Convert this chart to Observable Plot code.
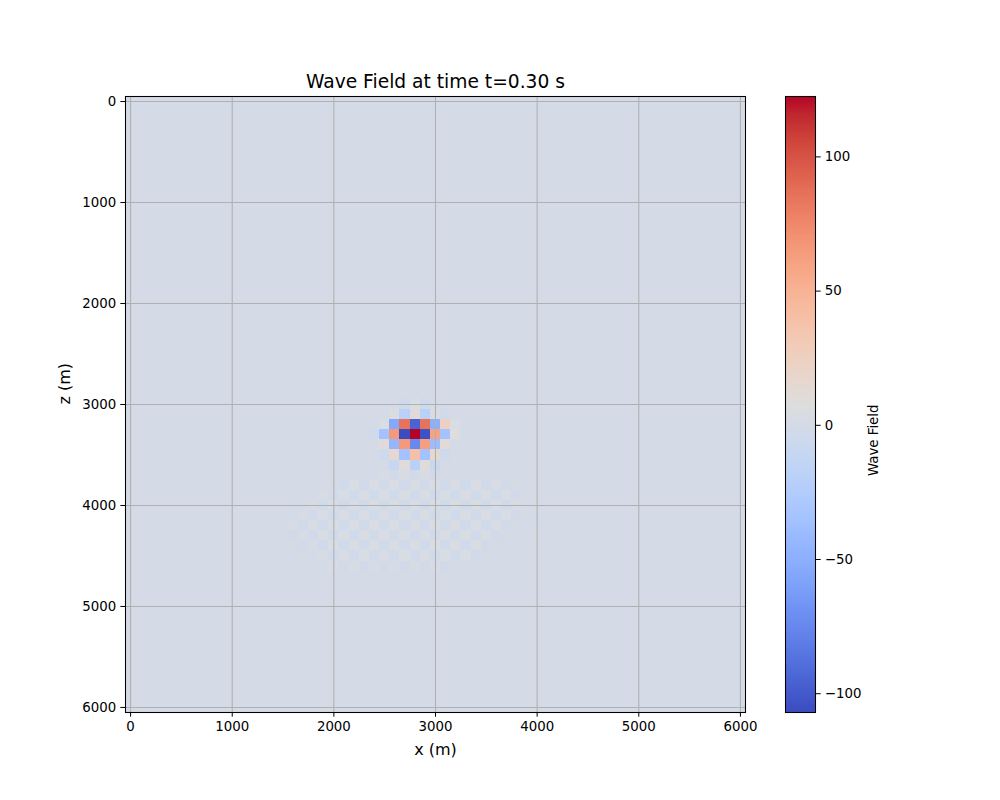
<!DOCTYPE html>
<html>
<head>
<meta charset="utf-8">
<script src="https://cdn.jsdelivr.net/npm/d3@7"></script>
<script src="https://cdn.jsdelivr.net/npm/@observablehq/plot@0.6"></script>
<style>
  body { margin: 0; background: #ffffff; }
  #wrap { position: relative; width: 1000px; height: 800px; }
  #wrap svg { position: absolute; left: 0; top: 0; }
</style>
</head>
<body>
<div id="wrap"></div>
<script>
// ---------- data ----------
const titleText = "Wave Field at time t=0.30 s";
const xLabel = "x (m)";
const zLabel = "z (m)";
const barLabel = "Wave Field";
const xTicks = [0, 1000, 2000, 3000, 4000, 5000, 6000];
const zTicks = [0, 1000, 2000, 3000, 4000, 5000, 6000];
const barTicks = [-100, -50, 0, 50, 100];
const cellSize = 100;
const gridX = d3.range(0, 6001, cellSize);   // model grid (x)
const gridZ = d3.range(0, 6001, cellSize);   // model grid (z)
const fieldX = d3.range(1500, 4001, cellSize); // columns of the non-zero patch
const fieldZ = d3.range(3000, 4801, cellSize); // rows of the non-zero patch
const fieldRows = [
  [0,0,0,0,0,0,0,0,0,0,0,0,-5,3,-5,0,0,0,0,0,0,0,0,0,0,0],              // 3000
  [0,0,0,0,0,0,0,0,0,0,0,5,-20,12,-20,4,-3,0,0,0,0,0,0,0,0,0],           // 3100
  [0,0,0,0,0,0,0,0,0,0,3,-55,85,-95,85,-50,25,3,0,0,0,0,0,0,0,0],        // 3200
  [0,0,0,0,0,0,0,0,0,-3,-35,65,-107,122.5,-104,60,-35,6,0,0,0,0,0,0,0,0],// 3300
  [0,0,0,0,0,0,0,0,0,0,10,-45,65,-75,62,-40,12,0,0,0,0,0,0,0,0,0],       // 3400
  [0,0,0,0,0,0,0,0,0,0,-6,15,-35,40,-35,15,-6,0,0,0,0,0,0,0,0,0],        // 3500
  [0,0,0,0,0,0,0,0,0,0,0,-10,10,-20,10,-8,0,0,0,0,0,0,0,0,0,0],          // 3600
  [0,0,0,0,0,0,0,0,1,-1,2,-2,2,-2,2,-2,1,-1,1,0,0,0,0,0,0,0],            // 3700
  [0,0,0,0,0,1,-3,3,-3,4,-4,4,-3,3,-3,3,-3,4,-4,4,-3,3,-2,1,0,0],        // 3800
  [0,0,0,-1,2,-3,3,-4,4,-4,4,-4,3,-3,3,-3,3,-4,4,-4,4,-3,3,-2,1,0],      // 3900
  [0,0,-1,2,-3,3,-4,4,-4,4,-4,3,-3,3,-3,3,-3,4,-4,4,-4,3,-3,2,-1,1],     // 4000
  [0,-1,2,-3,3,-4,4,-4,4,-4,3,-3,3,-3,3,-3,3,-4,4,-4,4,-3,3,-2,1,-1],    // 4100
  [-1,2,-3,3,-3,4,-4,4,-4,4,-4,4,-4,4,-4,4,-4,4,-3,3,-3,3,-2,1,-1,0],    // 4200
  [1,-2,2,-3,3,-3,4,-4,4,-4,4,-3,3,-3,3,-3,4,-4,3,-3,3,-2,1,-1,0,0],     // 4300
  [-1,1,-2,2,-3,3,-4,4,-4,4,-4,3,-3,3,-4,4,-4,4,-3,3,-2,1,-1,0,0,0],     // 4400
  [0,-1,1,-1,2,-3,3,-3,3,-3,3,-3,3,-3,3,-3,3,-3,3,-2,1,-1,0,0,0,0],      // 4500
  [0,0,0,1,-1,2,-2,2,-2,2,-2,2,-2,2,-2,2,-2,1,-1,1,0,0,0,0,0,0],         // 4600
  [0,0,0,0,0,-1,1,-1,1,-1,1,-1,1,-1,1,-1,1,-1,0,0,0,0,0,0,0,0],          // 4700
  [0,0,0,0,0,0,0,0.5,-0.5,0.5,-0.5,0.5,-0.5,0.5,-0.5,0.5,0,0,0,0,0,0,0,0,0,0] // 4800
];
const valueMin = -107;
const valueMax = 122.5;
// matplotlib "coolwarm" (Moreland) colour stops
const coolwarmStops = [
  [59,76,192],[68,90,204],[77,104,215],[87,117,225],[98,130,234],[108,142,241],
  [119,154,247],[130,165,251],[141,176,254],[152,185,255],[163,194,255],[174,201,253],
  [184,208,249],[194,213,244],[204,217,238],[213,219,230],[221,221,221],[229,216,209],
  [236,211,197],[241,204,184],[245,196,172],[247,187,159],[247,177,147],[247,166,134],
  [244,154,123],[241,141,111],[236,127,99],[229,112,89],[222,96,77],[213,80,67],
  [203,62,56],[192,40,47],[180,4,38]
];

// ---------- build ----------
const coolwarm = d3.piecewise(d3.interpolateRgb, coolwarmStops.map(c => `rgb(${c[0]},${c[1]},${c[2]})`));
const colorOpts = {type: "linear", domain: [valueMin, valueMax], interpolate: t => coolwarm(t), clamp: true};

const cells = [];
for (const z of gridZ) {
  for (const x of gridX) {
    const i = fieldX.indexOf(x), j = fieldZ.indexOf(z);
    cells.push({x, z, v: (i >= 0 && j >= 0) ? fieldRows[j][i] : 0});
  }
}
const half = cellSize / 2;
const extent = [gridX[0] - half, gridX[gridX.length - 1] + half];

const font = {fontFamily: "DejaVu Sans, sans-serif", fontSize: "13.33px", color: "black", background: "transparent", overflow: "visible"};
const tick = 4.67;

const main = Plot.plot({
  width: 1000, height: 800,
  marginLeft: 125, marginRight: 255, marginTop: 96, marginBottom: 88,
  style: font,
  x: {domain: extent},
  y: {domain: extent, reverse: true},
  color: colorOpts,
  marks: [
    Plot.rect(cells, {
      x1: d => d.x - half, x2: d => d.x + half,
      y1: d => d.z - half, y2: d => d.z + half,
      fill: "v", shapeRendering: "crispEdges"
    }),
    Plot.gridX(xTicks, {stroke: "#b0b0b0", strokeOpacity: 1, strokeWidth: 1.07}),
    Plot.gridY(zTicks, {stroke: "#b0b0b0", strokeOpacity: 1, strokeWidth: 1.07}),
    Plot.frame({stroke: "black", strokeWidth: 1.07}),
    Plot.axisX({ticks: xTicks, tickSize: tick, tickPadding: tick, label: null, tickFormat: d3.format("d")}),
    Plot.axisY({ticks: zTicks, tickSize: tick, tickPadding: tick, label: null, tickFormat: d3.format("d")}),
    Plot.text([titleText], {text: d => d, frameAnchor: "top", dy: -14, fontSize: 18.67, lineAnchor: "middle"}),
    Plot.text([xLabel], {text: d => d, frameAnchor: "bottom", dy: 37, fontSize: 16, lineAnchor: "middle"}),
    Plot.text([zLabel], {text: d => d, frameAnchor: "left", dx: -61, fontSize: 16, rotate: -90, lineAnchor: "middle"})
  ]
});

const nSteps = 300;
const step = (valueMax - valueMin) / nSteps;
const barSteps = d3.range(nSteps).map(i => valueMin + i * step);

const bar = Plot.plot({
  width: 1000, height: 800,
  marginLeft: 785, marginRight: 185, marginTop: 96, marginBottom: 88,
  style: font,
  x: {domain: [0, 1], axis: null},
  y: {domain: [valueMin, valueMax]},
  color: colorOpts,
  marks: [
    Plot.rect(barSteps, {x1: 0, x2: 1, y1: d => d, y2: d => d + step * 1.02, fill: d => d + step / 2, shapeRendering: "crispEdges"}),
    Plot.frame({stroke: "black", strokeWidth: 1.07}),
    Plot.axisY({anchor: "right", ticks: barTicks, tickSize: tick, tickPadding: tick, label: null}),
    Plot.text([barLabel], {text: d => d, frameAnchor: "right", dx: 58, fontSize: 13.33, rotate: -90, lineAnchor: "middle"})
  ]
});

const wrap = document.getElementById("wrap");
wrap.appendChild(main);
wrap.appendChild(bar);
</script>
</body>
</html>
